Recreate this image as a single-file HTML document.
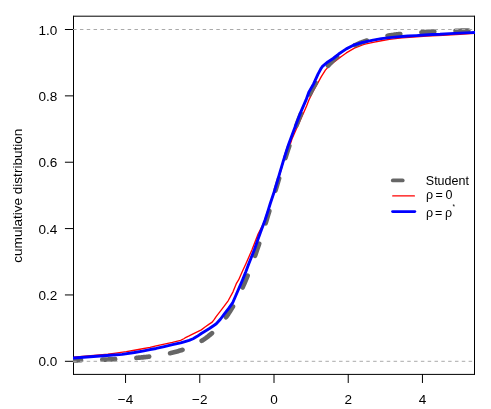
<!DOCTYPE html>
<html><head><meta charset="utf-8"><title>plot</title>
<style>
html,body{margin:0;padding:0;background:#fff;}
svg{display:block;}
text{font-family:"Liberation Sans",sans-serif;fill:#000;}
</style></head><body>
<svg style="will-change:transform" width="491" height="409" viewBox="0 0 491 409">
<rect x="0" y="0" width="491" height="409" fill="#fff"/>
<defs><clipPath id="c"><rect x="73.0" y="15.7" width="402.0" height="359.2"/></clipPath></defs>

<g clip-path="url(#c)" fill="none" stroke-linejoin="round" stroke-linecap="round">
<path d="M72.50,357.10 L73.60,357.05 L108.00,354.05 L114.00,353.35 L126.30,351.65 L134.40,350.25 L142.60,348.75 L150.00,347.45 L156.10,345.95 L164.30,344.15 L172.40,342.45 L180.60,340.35 L183.80,338.75 L185.00,337.95 L189.10,335.95 L193.10,333.85 L197.20,331.85 L201.30,329.85 L205.40,326.75 L208.80,324.35 L212.20,322.15 L214.30,319.45 L216.30,316.45 L220.40,311.15 L224.40,305.85 L228.30,300.55 L233.00,291.85 L236.30,283.70 L238.60,279.95 L242.20,271.85 L245.90,263.70 L251.90,249.95 L255.10,241.85 L258.20,233.70 L263.00,224.55 L265.07,219.95 L267.70,211.85 L270.20,203.70 L275.00,189.95 L277.50,181.85 L279.96,173.70 L283.80,159.95 L287.00,151.85 L290.40,143.70 L292.30,138.15 L295.90,129.95 L303.20,113.70 L306.60,106.05 L308.90,99.95 L312.80,91.85 L317.70,83.25 L321.30,76.65 L325.40,70.10 L329.40,65.65 L333.50,62.35 L337.80,59.15 L341.70,56.25 L346.30,52.95 L354.40,48.05 L362.60,44.81 L365.00,44.15 L373.15,42.35 L381.30,40.75 L389.40,39.45 L397.60,38.35 L402.40,37.85 L426.90,36.20 L442.90,35.45 L460.00,34.25 L474.50,33.25 L476.00,33.15" stroke="#ff0000" stroke-width="1.350"/>
</g>
<g fill="none" stroke="#000" stroke-width="1.000" stroke-linecap="round" stroke-linejoin="round">
<path d="M73.5,16.2 H474.5"/><path d="M474.5,16.2 V374.4"/><path d="M474.5,374.4 H73.5"/><path d="M73.5,374.4 V16.2"/>
<path d="M125.56,374.4 v8.18"/>
<path d="M199.78,374.4 v8.18"/>
<path d="M274.00,374.4 v8.18"/>
<path d="M348.22,374.4 v8.18"/>
<path d="M422.44,374.4 v8.18"/>
<path d="M73.5,361.30 h-8.18"/>
<path d="M73.5,294.94 h-8.18"/>
<path d="M73.5,228.58 h-8.18"/>
<path d="M73.5,162.22 h-8.18"/>
<path d="M73.5,95.86 h-8.18"/>
<path d="M73.5,29.50 h-8.18"/>
</g>
<g clip-path="url(#c)" fill="none" stroke-linejoin="round" stroke-linecap="round">
<path d="M68.25,360.44 L69.29,360.43 L70.32,360.41 L71.36,360.39 L72.40,360.38 L73.43,360.36 L74.47,360.34 L75.51,360.32 L76.54,360.30 L77.58,360.29 L78.62,360.27 L79.65,360.25 L80.69,360.23 L81.72,360.20 L82.76,360.18 L83.80,360.16 L84.83,360.14 L85.87,360.12 L86.91,360.09 L87.94,360.07 L88.98,360.04 L90.02,360.02 L91.05,359.99 L92.09,359.97 L93.13,359.94 L94.16,359.91 L95.20,359.88 L96.24,359.85 L97.27,359.83 L98.31,359.79 L99.35,359.76 L100.38,359.73 L101.42,359.70 L102.45,359.66 L103.49,359.63 L104.53,359.59 L105.56,359.56 L106.60,359.52 L107.64,359.48 L108.67,359.44 L109.71,359.40 L110.75,359.36 L111.78,359.32 L112.82,359.27 L113.86,359.23 L114.89,359.18 L115.93,359.13 L116.97,359.08 L118.00,359.03 L119.04,358.98 L120.08,358.93 L121.11,358.88 L122.15,358.82 L123.18,358.76 L124.22,358.70 L125.26,358.64 L126.29,358.58 L127.33,358.52 L128.37,358.45 L129.40,358.38 L130.44,358.31 L131.48,358.24 L132.51,358.16 L133.55,358.09 L134.59,358.01 L135.62,357.93 L136.66,357.85 L137.70,357.76 L138.73,357.67 L139.77,357.58 L140.81,357.49 L141.84,357.39 L142.88,357.29 L143.91,357.19 L144.95,357.08 L145.99,356.98 L147.02,356.86 L148.06,356.75 L149.10,356.63 L150.13,356.51 L151.17,356.38 L152.21,356.25 L153.24,356.11 L154.28,355.98 L155.32,355.83 L156.35,355.68 L157.39,355.53 L158.43,355.37 L159.46,355.21 L160.50,355.04 L161.54,354.87 L162.57,354.69 L163.61,354.51 L164.65,354.31 L165.68,354.12 L166.72,353.91 L167.75,353.70 L168.79,353.49 L169.83,353.26 L170.86,353.03 L171.90,352.79 L172.94,352.54 L173.97,352.28 L175.01,352.02 L176.05,351.74 L177.08,351.46 L178.12,351.17 L179.16,350.86 L180.19,350.55 L181.23,350.22 L182.27,349.89 L183.30,349.54 L184.34,349.18 L185.38,348.80 L186.41,348.42 L187.45,348.02 L188.48,347.61 L189.52,347.18 L190.56,346.74 L191.59,346.28 L192.63,345.80 L193.67,345.31 L194.70,344.80 L195.74,344.27 L196.78,343.73 L197.81,343.16 L198.85,342.58 L199.89,341.97 L200.92,341.35 L201.96,340.70 L203.00,340.02 L204.03,339.33 L205.07,338.61 L206.11,337.86 L207.14,337.08 L208.18,336.28 L209.21,335.46 L210.25,334.60 L211.29,333.71 L212.32,332.79 L213.36,331.84 L214.40,330.85 L215.43,329.83 L216.47,328.78 L217.51,327.69 L218.54,326.56 L219.58,325.40 L220.62,324.19 L221.65,322.95 L222.69,321.66 L223.73,320.33 L224.76,318.95 L225.80,317.54 L226.84,316.07 L227.87,314.56 L228.91,313.00 L229.94,311.39 L230.98,309.73 L232.02,308.02 L233.05,306.26 L234.09,304.44 L235.13,302.57 L236.16,300.65 L237.20,298.67 L238.24,296.64 L239.27,294.55 L240.31,292.40 L241.35,290.20 L242.38,287.93 L243.42,285.61 L244.46,283.24 L245.49,280.80 L246.53,278.31 L247.57,275.76 L248.60,273.15 L249.64,270.49 L250.68,267.77 L251.71,265.00 L252.75,262.17 L253.78,259.29 L254.82,256.36 L255.86,253.38 L256.89,250.35 L257.93,247.27 L258.97,244.15 L260.00,240.99 L261.04,237.78 L262.08,234.54 L263.11,231.26 L264.15,227.95 L265.19,224.61 L266.22,221.24 L267.26,217.85 L268.30,214.43 L269.33,211.00 L270.37,207.55 L271.41,204.09 L272.44,200.62 L273.48,197.15 L274.51,193.67 L275.55,190.20 L276.59,186.73 L277.62,183.27 L278.66,179.82 L279.70,176.39 L280.73,172.98 L281.77,169.58 L282.81,166.21 L283.84,162.87 L284.88,159.56 L285.92,156.28 L286.95,153.04 L287.99,149.83 L289.03,146.67 L290.06,143.55 L291.10,140.47 L292.14,137.44 L293.17,134.46 L294.21,131.53 L295.24,128.65 L296.28,125.82 L297.32,123.05 L298.35,120.33 L299.39,117.66 L300.43,115.06 L301.46,112.51 L302.50,110.01 L303.54,107.58 L304.57,105.20 L305.61,102.88 L306.65,100.62 L307.68,98.41 L308.72,96.27 L309.76,94.18 L310.79,92.14 L311.83,90.16 L312.87,88.24 L313.90,86.37 L314.94,84.56 L315.97,82.79 L317.01,81.08 L318.05,79.42 L319.08,77.81 L320.12,76.25 L321.16,74.74 L322.19,73.27 L323.23,71.86 L324.27,70.48 L325.30,69.15 L326.34,67.86 L327.38,66.62 L328.41,65.41 L329.45,64.24 L330.49,63.12 L331.52,62.03 L332.56,60.97 L333.60,59.95 L334.63,58.97 L335.67,58.02 L336.71,57.10 L337.74,56.21 L338.78,55.35 L339.81,54.52 L340.85,53.72 L341.89,52.95 L342.92,52.20 L343.96,51.48 L345.00,50.78 L346.03,50.11 L347.07,49.46 L348.11,48.83 L349.14,48.22 L350.18,47.64 L351.22,47.07 L352.25,46.53 L353.29,46.00 L354.33,45.49 L355.36,45.00 L356.40,44.53 L357.44,44.07 L358.47,43.62 L359.51,43.20 L360.54,42.78 L361.58,42.38 L362.62,42.00 L363.65,41.62 L364.69,41.26 L365.73,40.92 L366.76,40.58 L367.80,40.25 L368.84,39.94 L369.87,39.64 L370.91,39.34 L371.95,39.06 L372.98,38.78 L374.02,38.52 L375.06,38.26 L376.09,38.01 L377.13,37.77 L378.17,37.54 L379.20,37.32 L380.24,37.10 L381.27,36.89 L382.31,36.68 L383.35,36.49 L384.38,36.30 L385.42,36.11 L386.46,35.93 L387.49,35.76 L388.53,35.59 L389.57,35.43 L390.60,35.27 L391.64,35.12 L392.68,34.97 L393.71,34.83 L394.75,34.69 L395.79,34.55 L396.82,34.42 L397.86,34.29 L398.90,34.17 L399.93,34.05 L400.97,33.94 L402.01,33.83 L403.04,33.72 L404.08,33.61 L405.11,33.51 L406.15,33.41 L407.19,33.31 L408.22,33.22 L409.26,33.13 L410.30,33.04 L411.33,32.95 L412.37,32.87 L413.41,32.79 L414.44,32.71 L415.48,32.64 L416.52,32.56 L417.55,32.49 L418.59,32.42 L419.63,32.35 L420.66,32.29 L421.70,32.22 L422.74,32.16 L423.77,32.10 L424.81,32.04 L425.84,31.98 L426.88,31.92 L427.92,31.87 L428.95,31.82 L429.99,31.77 L431.03,31.72 L432.06,31.67 L433.10,31.62 L434.14,31.57 L435.17,31.53 L436.21,31.48 L437.25,31.44 L438.28,31.40 L439.32,31.36 L440.36,31.32 L441.39,31.28 L442.43,31.24 L443.47,31.21 L444.50,31.17 L445.54,31.14 L446.57,31.10 L447.61,31.07 L448.65,31.04 L449.68,31.01 L450.72,30.98 L451.76,30.95 L452.79,30.92 L453.83,30.89 L454.87,30.86 L455.90,30.83 L456.94,30.81 L457.98,30.78 L459.01,30.76 L460.05,30.73 L461.09,30.71 L462.12,30.68 L463.16,30.66 L464.20,30.64 L465.23,30.62 L466.27,30.60 L467.30,30.57 L468.34,30.55 L469.38,30.53 L470.41,30.51 L471.45,30.50 L472.49,30.48 L473.52,30.46 L474.56,30.44 L475.60,30.42 L476.63,30.41 L477.67,30.39 L478.71,30.37 L479.74,30.36 L480.78,30.34 L481.82,30.33" stroke="#666666" stroke-width="4.700" stroke-dasharray="12.800 21.300" stroke-dashoffset="0"/>
<path d="M73.5,361.30 L474.5,361.30" stroke="#aaaaaa" stroke-width="1.000" stroke-dasharray="2.700 4.119"/>
<path d="M73.5,29.50 L474.5,29.50" stroke="#aaaaaa" stroke-width="1.000" stroke-dasharray="2.700 4.119"/>
<path d="M72.50,358.15 L73.60,358.05 L110.00,355.25 L122.20,354.35 L134.40,352.55 L142.60,351.15 L150.00,349.55 L156.10,348.45 L164.30,346.55 L172.40,344.65 L180.60,342.85 L185.00,341.55 L189.10,340.40 L193.10,338.75 L197.20,336.35 L201.30,333.55 L205.40,331.05 L209.40,328.55 L213.50,325.75 L216.30,323.75 L220.40,319.25 L224.40,313.95 L228.50,308.65 L232.60,302.95 L242.50,279.95 L245.80,271.85 L248.80,263.70 L254.26,249.95 L257.10,241.85 L259.96,233.70 L265.07,219.95 L267.70,211.85 L270.20,203.70 L274.80,189.95 L277.20,181.85 L279.56,173.70 L283.66,159.95 L286.20,151.85 L288.85,143.70 L293.96,129.95 L297.10,121.85 L300.10,113.70 L306.05,99.95 L309.00,91.85 L313.70,83.70 L318.00,74.15 L321.30,68.05 L322.50,66.45 L327.80,61.95 L333.50,58.25 L338.70,54.05 L346.30,48.85 L354.40,44.81 L362.60,42.35 L365.00,41.95 L373.15,40.10 L381.30,38.65 L389.40,37.65 L397.60,36.85 L405.00,36.25 L408.15,36.05 L416.30,35.62 L424.40,35.05 L432.60,34.55 L440.00,34.25 L454.30,33.35 L470.60,32.65 L474.50,32.50 L476.00,32.45" stroke="#0000ff" stroke-width="2.900"/>
</g>
<text x="125.56" y="403.8" font-size="13.55" text-anchor="middle">−4</text>
<text x="199.78" y="403.8" font-size="13.55" text-anchor="middle">−2</text>
<text x="274.00" y="403.8" font-size="13.55" text-anchor="middle">0</text>
<text x="348.22" y="403.8" font-size="13.55" text-anchor="middle">2</text>
<text x="422.44" y="403.8" font-size="13.55" text-anchor="middle">4</text>
<text x="57.4" y="366.30" font-size="13.55" text-anchor="end">0.0</text>
<text x="57.4" y="299.94" font-size="13.55" text-anchor="end">0.2</text>
<text x="57.4" y="233.58" font-size="13.55" text-anchor="end">0.4</text>
<text x="57.4" y="167.22" font-size="13.55" text-anchor="end">0.6</text>
<text x="57.4" y="100.86" font-size="13.55" text-anchor="end">0.8</text>
<text x="57.4" y="34.50" font-size="13.55" text-anchor="end">1.0</text>
<text transform="translate(21.9,195.70) rotate(-90)" font-size="13.55" text-anchor="middle">cumulative distribution</text>
<g fill="none" stroke-linecap="round">
<path d="M392.85,180.4 H414.9" stroke="#666666" stroke-width="3.900" stroke-dasharray="9.8 40"/>
<path d="M392.7,195.95 H414.4" stroke="#ff0000" stroke-width="1.200"/>
<path d="M392.6,211.6 H414.8" stroke="#0000ff" stroke-width="2.900"/>
</g>
<text x="425.8" y="184.9" font-size="12.50">Student</text>
<text x="426.0" y="198.7" font-size="12.50">ρ</text>
<text x="435.5" y="198.7" font-size="12.50">=</text>
<text x="445.4" y="198.7" font-size="12.50">0</text>
<text x="426.0" y="216.6" font-size="12.50">ρ</text>
<text x="435.0" y="216.6" font-size="12.50">=</text>
<text x="445.0" y="216.6" font-size="12.50">ρ</text>
<text x="452.5" y="208.7" font-size="6.5">*</text>
</svg></body></html>
